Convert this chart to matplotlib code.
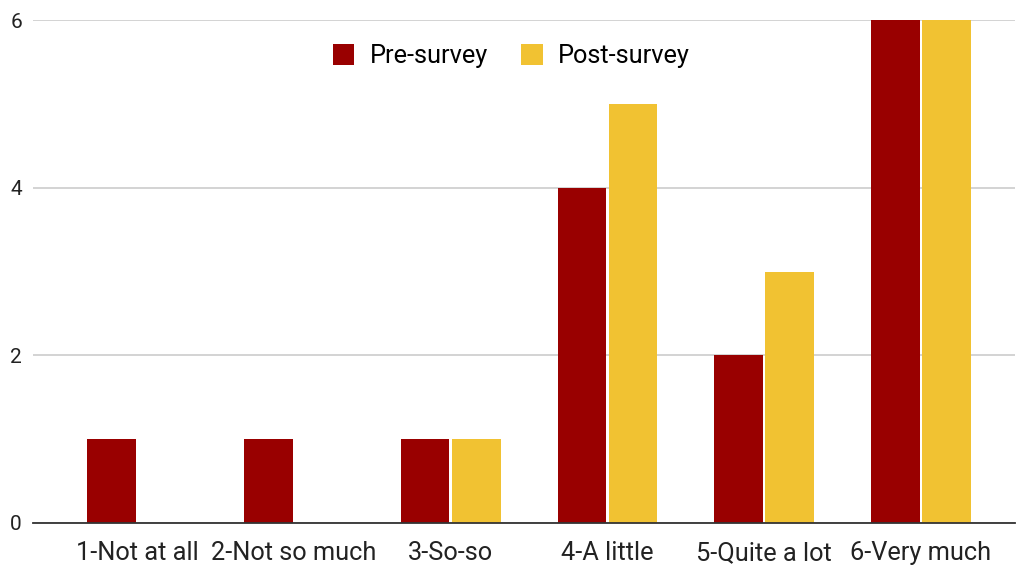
import numpy as np
import matplotlib.pyplot as plt

categories = ['1-Not at all', '2-Not so much', '3-So-so', '4-A little', '5-Quite a lot', '6-Very much']
pre_survey = [1, 1, 1, 4, 2, 6]
post_survey = [0, 0, 1, 5, 3, 6]

plt.rcParams['font.family'] = ['Roboto', 'DejaVu Sans']

fig = plt.figure(figsize=(10.18, 5.67), dpi=100)
ax = fig.add_axes([33 / 1018, 44 / 567, 982 / 1018, 503 / 567])

x = np.arange(len(categories))
w = 0.31
ax.bar(x - 0.163, pre_survey, w, color='#990000', label='Pre-survey', zorder=3)
ax.bar(x + 0.163, post_survey, w, color='#f1c232', label='Post-survey', zorder=3)

ax.set_xlim(-0.665, 5.6)
ax.set_ylim(0, 6)
ax.set_yticks([0, 2, 4, 6])
ax.yaxis.grid(True, color='#cccccc', linewidth=1.2, zorder=0)
ax.set_xticks(x)
ax.set_xticklabels(categories, fontsize=18.3, color='#222222')
ax.tick_params(axis='x', length=0, pad=13)
ax.tick_params(axis='y', length=0, pad=8, labelsize=15, colors='#222222')

for s in ['top', 'right', 'left']:
    ax.spines[s].set_visible(False)
ax.spines['bottom'].set_color('#333333')
ax.spines['bottom'].set_linewidth(1.3)
ax.spines['bottom'].set_zorder(4)

ax.legend(loc='upper center', bbox_to_anchor=(0.487, 0.997), ncol=2, frameon=False,
          fontsize=18.3, handlelength=0.85, handleheight=0.85, columnspacing=1.3,
          handletextpad=0.6)

plt.savefig('out.png', dpi=100)
